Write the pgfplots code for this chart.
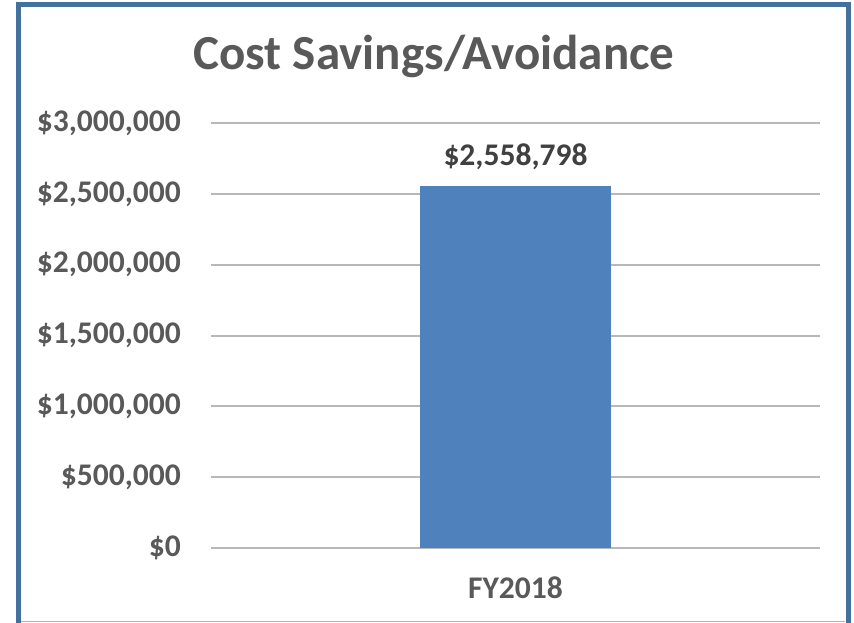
\documentclass[border=0pt]{standalone}
\usepackage{pgfplots}
\pgfplotsset{compat=1.18}
\usepackage{fontspec}
\setmainfont{Carlito}
\definecolor{framec}{HTML}{41719C}
\definecolor{barc}{HTML}{4F81BD}
\definecolor{txt}{HTML}{595959}
\definecolor{lbl}{HTML}{404040}
\definecolor{gridc}{HTML}{B8B8B8}
\begin{document}
\begin{tikzpicture}
\useasboundingbox (0,0) rectangle (854pt,622pt);
\fill[white] (0,0) rectangle (854pt,622pt);
\draw[gray!60, line width=1pt] (21pt,0.5pt) -- (845pt,0.5pt);
\draw[framec, line width=5pt] (18.5pt,-20pt) -- (18.5pt,617.5pt) -- (848pt,617.5pt) -- (848pt,-20pt);
\node[anchor=base, inner sep=0pt, text=txt, font=\fontsize{49}{52}\selectfont\bfseries] at (434pt,552pt) {Cost Savings/Avoidance};
\begin{axis}[
  at={(211pt,74pt)}, anchor=south west,
  scale only axis, width=609pt, height=425pt,
  xmin=-1, xmax=1, ymin=0, ymax=3000000,
  axis line style={draw=none},
  major tick style={draw=none},
  ytick={0,500000,1000000,1500000,2000000,2500000,3000000},
  scaled y ticks=false,
  ymajorgrids,
  grid style={gridc, line width=2pt},
  yticklabel={\$\pgfmathprintnumber[fixed,precision=0,1000 sep={,}]{\tick}},
  /pgf/number format/assume math mode=true,
  yticklabel style={anchor=east, inner sep=0pt, xshift=-30pt, text=txt, font=\fontsize{31.5}{36}\selectfont\bfseries},
  xtick={0}, xticklabels={FY2018},
  xticklabel style={anchor=base, inner sep=0pt, yshift=-50pt, text=txt, font=\fontsize{31.5}{36}\selectfont\bfseries},
  clip=false,
]
\addplot[ybar, bar width=191pt, fill=barc, draw=none,
  point meta=explicit symbolic,
  nodes near coords,
  every node near coord/.append style={anchor=base, inner sep=0pt, yshift=20pt, text=lbl, font=\fontsize{31.5}{36}\selectfont\bfseries}]
  coordinates {(0,2558798) [\$2{,}558{,}798]};
\end{axis}
\end{tikzpicture}
\end{document}
